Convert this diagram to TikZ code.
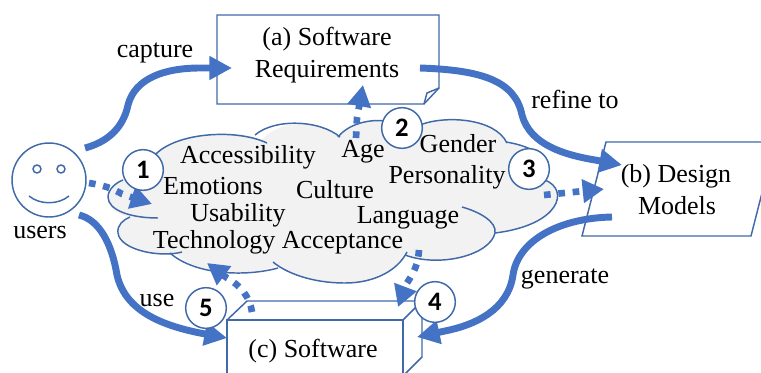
\documentclass[tikz,border=0pt]{standalone}
\usepackage{fontspec}
\setmainfont{Liberation Serif}
\newfontfamily\numfont{Carlito}
\usetikzlibrary{arrows.meta}
\definecolor{edgeblue}{HTML}{3F69A8}
\definecolor{arrowblue}{HTML}{4472C4}
\definecolor{cloudgray}{HTML}{F2F2F2}
\tikzset{
  outline/.style={draw=edgeblue,line width=1.1pt,line join=miter},
  lobe/.style={draw=edgeblue,line width=1.1pt},
  flowline/.style={draw=arrowblue,line width=5.2pt,-{Triangle[length=17pt,width=17pt]}},
  dotline/.style={draw=arrowblue,line width=5pt,dash pattern=on 5pt off 5.8pt,-{Triangle[length=16pt,width=17pt]}},
  txt/.style={font=\fontsize{19.5pt}{22pt}\selectfont,text=black,inner sep=0pt,anchor=base},
  badge/.style={circle,draw=edgeblue,line width=1.1pt,fill=white,minimum size=30.5pt,inner sep=0pt,font=\numfont\bfseries\fontsize{20pt}{20pt}\selectfont},
  faceparts/.style={draw=edgeblue,line width=1.1pt,fill=white,circle,inner sep=0pt},
}
\begin{document}
\begin{tikzpicture}[x=0.75pt,y=-0.75pt]
\useasboundingbox (0,0) rectangle (761,372);
\clip (0,0) rectangle (761,372);
% cloud fill
\fill[cloudgray] (155,155) .. controls (175,133) and (235,128) .. (262,140)
  .. controls (280,118) and (320,120) .. (340,137)
  .. controls (350,122) and (375,118) .. (390,122)
  -- (420,125) .. controls (445,115) and (495,118) .. (507,143)
  .. controls (525,145) and (540,152) .. (548,162)
  -- (545,180) .. controls (570,190) and (560,225) .. (495,233)
  .. controls (490,255) and (440,268) .. (405,255)
  .. controls (398,270) and (375,283) .. (345,283)
  .. controls (310,283) and (285,272) .. (276,266)
  .. controls (245,277) and (195,275) .. (176,253)
  .. controls (160,258) and (120,250) .. (118,233)
  .. controls (117,225) and (123,220) .. (130,217)
  .. controls (115,215) and (108,205) .. (108,197)
  .. controls (108,190) and (115,183) .. (123,180) -- cycle;
% cloud lobes
\draw[lobe] (155,155) .. controls (175,133) and (235,128) .. (267,143);
\draw[lobe] (255,135) .. controls (275,118) and (320,120) .. (340,137);
\draw[lobe] (338,137) .. controls (350,122) and (375,118) .. (390,122);
\draw[lobe] (420,125) .. controls (445,115) and (495,118) .. (507,143);
\draw[lobe] (506,142) .. controls (525,145) and (540,152) .. (548,162);
\draw[lobe] (545,180) .. controls (570,190) and (560,225) .. (495,233);
\draw[lobe] (462,207) .. controls (480,212) and (497,222) .. (495,233)
  .. controls (490,255) and (440,268) .. (405,255);
\draw[lobe] (407,252) .. controls (398,270) and (375,283) .. (345,283)
  .. controls (310,283) and (285,272) .. (273,262);
\draw[lobe] (278,268) .. controls (245,277) and (195,275) .. (170,253);
\draw[lobe] (182,252) .. controls (160,258) and (120,250) .. (118,233)
  .. controls (117,225) and (123,220) .. (130,217);
\draw[lobe] (158,218) .. controls (130,218) and (108,210) .. (108,197)
  .. controls (108,190) and (115,183) .. (123,180);
% box a
\draw[outline] (217,15) -- (439,15) -- (439,88) -- (424,104) -- (217,104) -- cycle;
\draw[outline] (424,104) -- (427,93) -- (439,88);
% box b
\draw[outline] (606,142) -- (775,142) -- (751,236) -- (582,236) -- cycle;
% box c
\draw[outline] (227,320) -- (247,301) -- (422,301) -- (422,357) -- (403,376);
\draw[outline] (227,380) -- (227,320) -- (403,320) -- (403,380);
\draw[outline] (403,320) -- (422,301);
% face
\node[faceparts,minimum size=55.5pt] (users) at (49,180) {};
\node[faceparts,minimum size=6pt] (eyeL) at (37,169) {};
\node[faceparts,minimum size=6pt] (eyeR) at (61,169) {};
\draw[lobe] (29,196) .. controls (40,205) and (58,205) .. (69,196);
% texts
\node[txt] (tusers) at (40,238) {users};
\node[txt] (ta1) at (327,45) {(a) Software};
\node[txt] (ta2) at (327,77) {Requirements};
\node[txt] (tb1) at (676,182) {(b) Design};
\node[txt] (tb2) at (677,214) {Models};
\node[txt] (tc) at (313,357) {(c) Software};
\node[txt] (lcap) at (155,57) {capture};
\node[txt] (lref) at (575,108) {refine to};
\node[txt] (luse) at (157,306) {use};
\node[txt] (lgen) at (565,283) {generate};
\node[txt] (c1) at (248,163) {Accessibility};
\node[txt] (c2) at (363,157) {Age};
\node[txt] (c3) at (458,152) {Gender};
\node[txt] (c4) at (213,194) {Emotions};
\node[txt] (c5) at (335,198) {Culture};
\node[txt] (c6) at (447,183) {Personality};
\node[txt] (c7) at (238,221) {Usability};
\node[txt] (c8) at (408,223) {Language};
\node[txt] (c9) at (278,248) {Technology Acceptance};
% connector ends
\coordinate (capS) at (85,148); \coordinate (capE) at (232,68);
\coordinate (refS) at (420,68); \coordinate (refE) at (622,165);
\coordinate (useS) at (79,215); \coordinate (useE) at (227,338);
\coordinate (genS) at (612,217); \coordinate (genE) at (417,337);
\coordinate (d1S) at (89,183); \coordinate (d1E) at (152,204);
\coordinate (d2S) at (356,138); \coordinate (d2E) at (363,85);
\coordinate (d3S) at (544,195); \coordinate (d3E) at (604,189);
\coordinate (d4S) at (419,250); \coordinate (d4E) at (398,307);
\coordinate (d5S) at (252,312); \coordinate (d5E) at (207,263);
% solid connectors
\draw[flowline] (capS) .. controls (115,140) and (125,120) .. (128,105) .. controls (135,78) and (165,68) .. (200,68) -- (capE);
\draw[flowline] (refS) .. controls (480,70) and (515,80) .. (522,115) .. controls (530,145) and (565,155) .. (595,160) -- (refE);
\draw[flowline] (useS) .. controls (100,220) and (112,245) .. (117,275) .. controls (125,310) and (160,325) .. (200,333) -- (useE);
\draw[flowline] (genS) .. controls (560,218) and (518,240) .. (513,275) .. controls (508,310) and (475,325) .. (445,331) -- (genE);
% dotted connectors
\draw[dotline] (d1S) .. controls (102,185) and (112,188) .. (122,194) -- (d1E);
\draw[dotline] (d2S) -- (357,118) -- (d2E);
\draw[dotline] (d3S) -- (d3E);
\draw[dotline] (d4S) .. controls (418,265) and (414,272) .. (407,283) -- (d4E);
\draw[dotline] (d5S) .. controls (250,297) and (240,285) .. (227,278) -- (d5E);
% badges
\node[badge] (n1) at (143,170) {1};
\node[badge] (n2) at (402,128) {2};
\node[badge] (n3) at (529,169) {3};
\node[badge] (n4) at (435,302) {4};
\node[badge] (n5) at (206,308) {5};
\end{tikzpicture}
\end{document}
